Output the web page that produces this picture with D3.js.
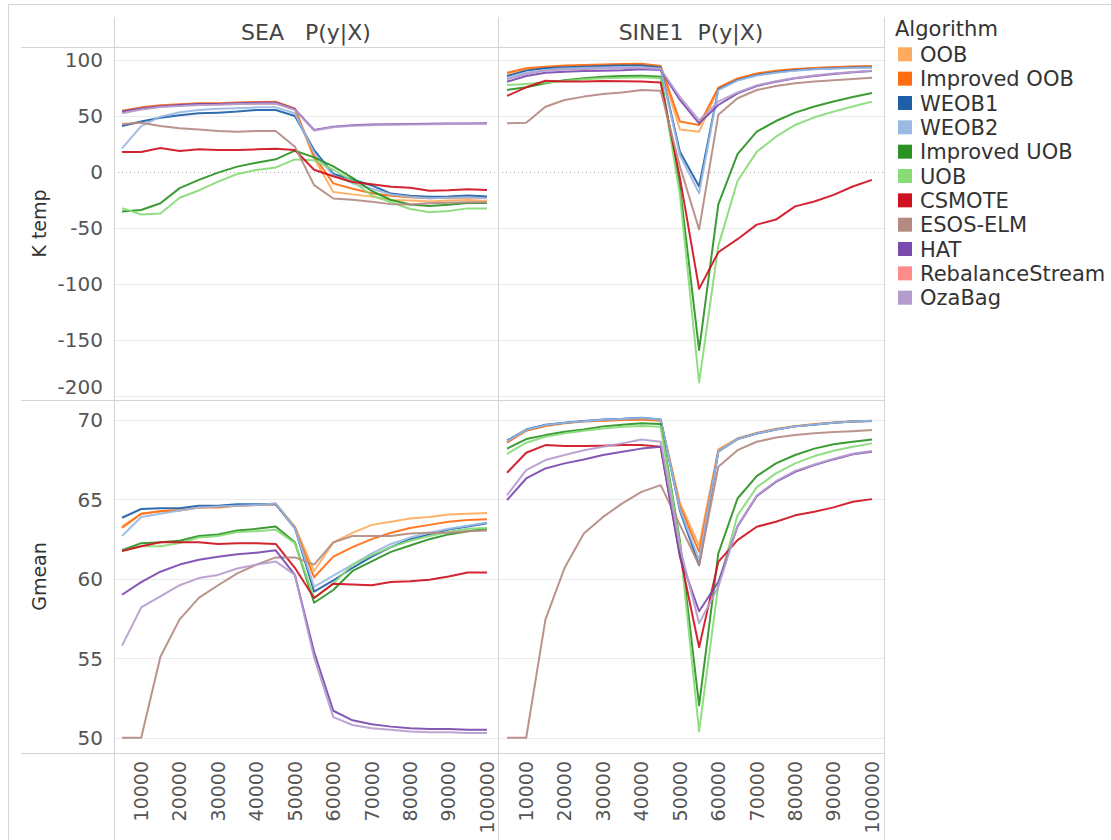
<!DOCTYPE html>
<html><head><meta charset="utf-8">
<script src="https://cdn.jsdelivr.net/npm/d3@7"></script>
<style>
body{margin:0;background:#fff;}
text{font-family:"DejaVu Sans",sans-serif;}
</style>
</head><body>
<svg id="chart" width="1111" height="840"></svg>
<script>
// ---------------- DATA ----------------
const xValues = [5000,10000,15000,20000,25000,30000,35000,40000,45000,50000,55000,60000,65000,70000,75000,80000,85000,90000,95000,100000];
const xTicks = [10000,20000,30000,40000,50000,60000,70000,80000,90000,100000];
const ktempTicks = [100,50,0,-50,-100,-150,-200];
const gmeanTicks = [70,65,60,55,50];
const datasets = ["SEA   P(y|X)", "SINE1  P(y|X)"];
const metrics = ["K temp", "Gmean"];
const algorithms = ["OOB","Improved OOB","WEOB1","WEOB2","Improved UOB","UOB","CSMOTE","ESOS-ELM","HAT","RebalanceStream","OzaBag"];
const colors = ["#ffab5e","#ff6d12","#1f5fa8","#9ab9e3","#2a9223","#88db77","#cf1120","#b48a82","#7a4aae","#ff8b8b","#b59ccf"];

// SEA, K temp (one row per algorithm, same order as `algorithms`; null = not drawn)
const seaKtemp = [
  [53,56,58.3,59.5,60,60.4,60.7,61,61,56,12,-17.8,-20,-22,-25,-25.4,-26.3,-25.4,-25,-26],
  [54.8,57.7,59.5,60.4,61.3,61.3,62,62.5,62.8,56.8,14,-10.2,-15,-19,-21.3,-22.5,-23.4,-23,-22.5,-22.8],
  [41,45,48.5,50.6,52.4,53,53.9,55.4,55.4,50,19.6,-1.8,-6.7,-12,-19.3,-21.3,-22.2,-22,-21,-22],
  [21,41,49.4,53.3,55.4,56.5,57,57.7,57.7,52.4,17,-3,-10,-15,-20,-22,-23.5,-23,-22.5,-23.5],
  [-35.2,-34,-27.9,-14.4,-7.1,-0.6,4.8,8.3,11.3,19,13,5,-5.3,-17,-25,-29,-30.4,-29.2,-27.8,-27.8],
  [-32.3,-38,-37,-23,-16.5,-8.6,-1.8,1.8,4.1,11.2,10.5,2,-8,-21,-27,-33,-36,-34.8,-32.5,-32.5],
  [17.9,17.9,21.4,18.8,20.2,19.6,19.6,20.2,20.8,19.6,2,-3.8,-9,-11,-13.2,-14,-16.7,-16.4,-15.5,-16],
  [42.9,44,41,39,38,36.6,36,36.6,36.6,22.6,-11.7,-23.7,-24.9,-26.6,-28.7,-29,-28,-27.5,-27,-27],
  [54,56.8,58.8,59.8,60.6,60.8,61.4,61.8,62,56,37.5,40.5,41.7,42.3,42.6,42.9,43.1,43.2,43.4,43.5],
  null,
  [52.5,55.8,58,59,59.8,60,60.6,61,61.2,55.5,37,40,41.2,41.8,42.1,42.4,42.6,42.8,43,43.1]
];
// SINE1, K temp
const sineKtemp = [
  [87.5,91.5,93.3,94.3,95,95.4,95.8,96.1,94,38,36,74.5,83,87.5,90,91.5,92.5,93.3,94,94.3],
  [88.7,92.6,94,95,95.5,96,96.4,96.7,94.6,45,42,75.3,83.6,88,90.5,92,92.9,93.7,94.3,94.6],
  [85.7,90.5,92.6,93.5,94,94.6,95,95,93.2,18,-13,73.8,82,86.6,89,90.8,92,92.6,93.2,93.5],
  [83.6,88.7,91,92.3,92.8,93.2,93.5,93.5,92.3,15,-19,73,81.6,86.2,88.7,90.5,91.7,92.3,92.9,93.2],
  [73.2,75.6,79.2,82,83.6,85,85.7,86,85,-13,-159,-29,16,36,45.5,53,58.5,63,67,70.5],
  [77.7,78.6,79.8,81.2,82.7,83.6,84.2,84.5,83.6,-20,-188,-66,-8,18,31.5,42,48.8,53.9,58.5,62.8],
  [67.9,75.6,81.5,80.7,80.7,81.2,81,80.7,79.8,-5,-104.4,-71.7,-60,-47,-42.5,-30.7,-26.3,-20.4,-13,-7],
  [43.5,44,58.3,64.3,67.3,69.6,71,73.2,72.6,5,-51.3,51,65.8,73.2,76.8,79.2,80.7,82,83,84.2],
  [80.6,85.7,88.7,89.6,90.2,90.5,90.8,91.7,91,64.3,43.5,59.8,70.2,76.8,80.6,83.6,85.7,87.5,89,90.2],
  null,
  [82.7,87.5,90.5,91.5,92,92.4,92.7,93,91.7,67,46,62.8,71,77.3,81,84,86.1,87.9,89.3,90.5]
];
// SEA, Gmean
const seaGmean = [
  [63.3,64.1,64.25,64.35,64.5,64.55,64.6,64.65,64.75,63.3,60.5,62.3,62.9,63.4,63.6,63.8,63.9,64.05,64.1,64.15],
  [63.2,64.1,64.25,64.3,64.5,64.5,64.6,64.65,64.7,63.2,60.1,61.4,62,62.5,62.9,63.2,63.4,63.6,63.7,63.75],
  [63.85,64.4,64.44,64.44,64.6,64.6,64.7,64.7,64.7,63.2,59.2,59.9,60.7,61.4,62,62.5,62.8,63.1,63.3,63.5],
  [62.7,63.9,64.1,64.3,64.5,64.55,64.6,64.65,64.75,63.2,59.5,60.2,60.9,61.6,62.2,62.6,62.9,63.15,63.35,63.55],
  [61.8,62.25,62.3,62.4,62.7,62.8,63.05,63.15,63.3,62.3,58.5,59.3,60.5,61.1,61.7,62.1,62.5,62.8,63,63.15],
  [61.75,62.05,62.05,62.25,62.6,62.7,62.95,63,63.1,62.25,58.8,59.7,60.9,61.5,62,62.4,62.7,62.95,63.15,63.2],
  [61.75,62.05,62.3,62.3,62.3,62.2,62.25,62.25,62.2,60.7,58.8,59.7,59.65,59.6,59.8,59.85,59.95,60.15,60.4,60.4],
  [50,50,55.1,57.45,58.8,59.6,60.35,60.9,61.35,61.35,60.9,62.3,62.7,62.7,62.7,62.85,62.9,62.9,63,63.05],
  [59,59.8,60.45,60.9,61.2,61.4,61.55,61.65,61.8,60.25,55.4,51.7,51.1,50.85,50.7,50.6,50.55,50.55,50.5,50.5],
  null,
  [55.8,58.2,58.9,59.6,60.05,60.25,60.65,60.9,61.1,60.25,55.05,51.3,50.8,50.6,50.5,50.4,50.35,50.35,50.3,50.3]
];
// SINE1, Gmean
const sineGmean = [
  [68.6,69.35,69.65,69.82,69.92,69.98,70.02,70.06,69.98,64.8,62.1,68.15,68.85,69.2,69.45,69.62,69.75,69.85,69.92,69.96],
  [68.57,69.33,69.62,69.8,69.9,69.96,70,70.04,69.96,64.6,61.7,68.07,68.8,69.15,69.4,69.6,69.73,69.83,69.9,69.94],
  [68.7,69.4,69.7,69.83,69.94,70.04,70.08,70.15,70.04,64.3,60.86,68,68.8,69.15,69.4,69.6,69.7,69.83,69.9,69.94],
  [68.65,69.38,69.68,69.82,69.92,70.02,70.06,70.12,70.02,64.4,61.2,68.03,68.8,69.15,69.4,69.6,69.72,69.83,69.9,69.95],
  [68.2,68.8,69.05,69.26,69.4,69.6,69.7,69.8,69.75,62.4,52.04,61.6,65.06,66.47,67.27,67.8,68.2,68.47,68.63,68.78],
  [67.86,68.57,68.95,69.16,69.33,69.47,69.58,69.62,69.58,62.2,50.4,59.6,64,65.76,66.64,67.27,67.73,68.07,68.32,68.53],
  [66.68,67.94,68.42,68.36,68.36,68.38,68.42,68.42,68.32,61.5,55.7,61.07,62.44,63.28,63.6,64,64.22,64.5,64.85,65.02],
  [50,50,57.44,60.7,62.86,63.9,64.75,65.48,65.9,63.4,60.86,67.06,68.1,68.63,68.9,69.05,69.16,69.24,69.3,69.37],
  [64.96,66.32,66.95,67.27,67.52,67.8,68,68.2,68.32,61.4,57.96,59.8,63.3,65.2,66.1,66.74,67.16,67.52,67.84,68],
  null,
  [65.27,66.85,67.48,67.8,68.1,68.32,68.53,68.78,68.63,62,57.2,59.5,63.35,65.25,66.15,66.8,67.2,67.56,67.88,68.05]
];

// ---------------- LAYOUT ----------------
const svg = d3.select("#chart");
const gridColor = "#ebebeb", frameColor = "#d4d4d4";
const cols = [
  {left:114, right:498, x0:122, x1:487},
  {left:498, right:884, x0:507, x1:872}
];
const rows = [
  {top:47, bottom:400, domain:[-203.6,111.6], ticks:ktempTicks, zero:true},
  {top:400, bottom:753, domain:[49.04,71.26], ticks:gmeanTicks, zero:false}
];
const panelData = [[seaKtemp, sineKtemp],[seaGmean, sineGmean]];

// outer frame
svg.append("rect").attr("x",8.5).attr("y",4.5).attr("width",1200).attr("height",900)
  .attr("fill","none").attr("stroke",frameColor);

// panels
rows.forEach((row, ri) => {
  const y = d3.scaleLinear().domain(row.domain).range([row.bottom, row.top]);
  cols.forEach((col, ci) => {
    const x = d3.scaleLinear().domain([xValues[0], xValues[xValues.length-1]]).range([col.x0, col.x1]);
    const g = svg.append("g");
    // gridlines
    g.selectAll("line.grid").data(row.ticks.filter(t => !(row.zero && t===0))).join("line")
      .attr("x1", col.left).attr("x2", col.right)
      .attr("y1", d => Math.round(y(d))+0.5).attr("y2", d => Math.round(y(d))+0.5)
      .attr("stroke", gridColor);
    if (row.zero) {
      g.append("line").attr("x1", col.left).attr("x2", col.right)
        .attr("y1", Math.round(y(0))+0.5).attr("y2", Math.round(y(0))+0.5)
        .attr("stroke", "#a8a8a8").attr("stroke-dasharray","1,3");
    }
    // lines
    const line = d3.line().x((d,i) => x(xValues[i])).y(d => y(d));
    panelData[ri][ci].forEach((series, ai) => {
      if (!series) return;
      g.append("path").attr("d", line(series)).attr("fill","none")
        .attr("stroke", colors[ai]).attr("stroke-width", 2)
        .attr("stroke-linejoin","round").attr("stroke-opacity",0.92);
    });
    // x axis tick labels (bottom row only)
    if (ri === rows.length-1) {
      svg.append("g").selectAll("text").data(xTicks).join("text")
        .attr("transform", d => `translate(${x(d)},761) rotate(-90)`)
        .attr("text-anchor","end").attr("dy","0.36em")
        .attr("font-size",19).attr("fill","#555").text(d => d);
    }
  });
  // y tick labels
  svg.append("g").selectAll("text").data(row.ticks).join("text")
    .attr("x",103).attr("y", d => Math.min(y(d), row.bottom-13))
    .attr("dy","0.36em").attr("text-anchor","end")
    .attr("font-size",20).attr("fill","#555").text(d => d);
  // row label
  svg.append("text").attr("transform", `translate(46,${(row.top+row.bottom)/2}) rotate(-90)`)
    .attr("text-anchor","middle").attr("font-size",19).attr("fill","#333").text(metrics[ri]);
});

// frame lines
const frame = svg.append("g").attr("stroke", frameColor).attr("fill","none");
[47, 400, 753].forEach(yy => frame.append("line").attr("x1",21).attr("x2",884).attr("y1",yy+0.5).attr("y2",yy+0.5));
[114, 498, 884].forEach(xx => frame.append("line").attr("x1",xx+0.5).attr("x2",xx+0.5).attr("y1",17).attr("y2",840));

// column headers
cols.forEach((col, ci) => {
  svg.append("text").attr("x",(col.left+col.right)/2).attr("y",39.5)
    .attr("text-anchor","middle").attr("font-size",22).attr("fill","#444")
    .style("white-space","pre").text(datasets[ci]);
});

// legend
const leg = svg.append("g");
leg.append("text").attr("x",895).attr("y",36).attr("font-size",21).attr("fill","#333").text("Algorithm");
algorithms.forEach((a, i) => {
  const cy = 54.3 + i*24.34;
  leg.append("rect").attr("x",898).attr("y",cy-7).attr("width",14).attr("height",14).attr("fill",colors[i]);
  leg.append("text").attr("x",920).attr("y",cy).attr("dy","0.36em").attr("font-size",21).attr("fill","#333").text(a);
});
</script>
</body></html>
